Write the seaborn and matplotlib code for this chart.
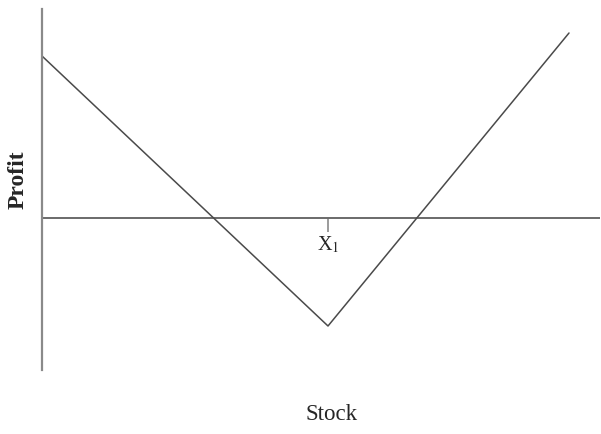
import numpy as np
import pandas as pd
import matplotlib
matplotlib.use("Agg")
import matplotlib.pyplot as plt
import seaborn as sns

# payoff of a long straddle (arbitrary units)
stock = [0, 286, 527]
profit = [162, -108, 185]
strike = 286
strike_label = r"X$_1$"

sns.set_style("white")
plt.rcParams["font.family"] = ["Liberation Serif", "DejaVu Serif"]
plt.rcParams["mathtext.fontset"] = "stix"

df = pd.DataFrame({"Stock": stock, "Profit": profit})

fig = plt.figure(figsize=(6.01, 4.34), dpi=100, facecolor="white")
ax = fig.add_axes([42 / 601, 64 / 434, 558 / 601, 361 / 434])

sns.lineplot(data=df, x="Stock", y="Profit", ax=ax, color="#4a4a4a", linewidth=1.1)

ax.set_xlim(0, 558)
ax.set_ylim(-152, 209)
ax.axhline(0, color="#6a6a6a", linewidth=1.4, zorder=1)

for s in ["top", "right", "bottom"]:
    ax.spines[s].set_visible(False)
ax.spines["left"].set_color("#8a8a8a")
ax.spines["left"].set_linewidth(1.6)

ax.set_yticks([])
ax.set_xticks([strike])
ax.set_xticklabels([strike_label])
ax.xaxis.set_ticks_position("bottom")
ax.spines["bottom"].set_position(("data", 0))
ax.tick_params(axis="x", direction="out", length=10, width=1.2, color="#8a8a8a",
               pad=2, labelsize=14.5)
ax.set_xlabel("")
ax.set_ylabel("")

fig.text(18 / 601, 1 - 180 / 434, "Profit", rotation=90, ha="center", va="center",
         fontsize=17, fontweight="bold")
fig.text(332 / 601, 1 - 414 / 434, "Stock", ha="center", va="center", fontsize=16.5)

plt.savefig("out.png", dpi=100, facecolor="white")
